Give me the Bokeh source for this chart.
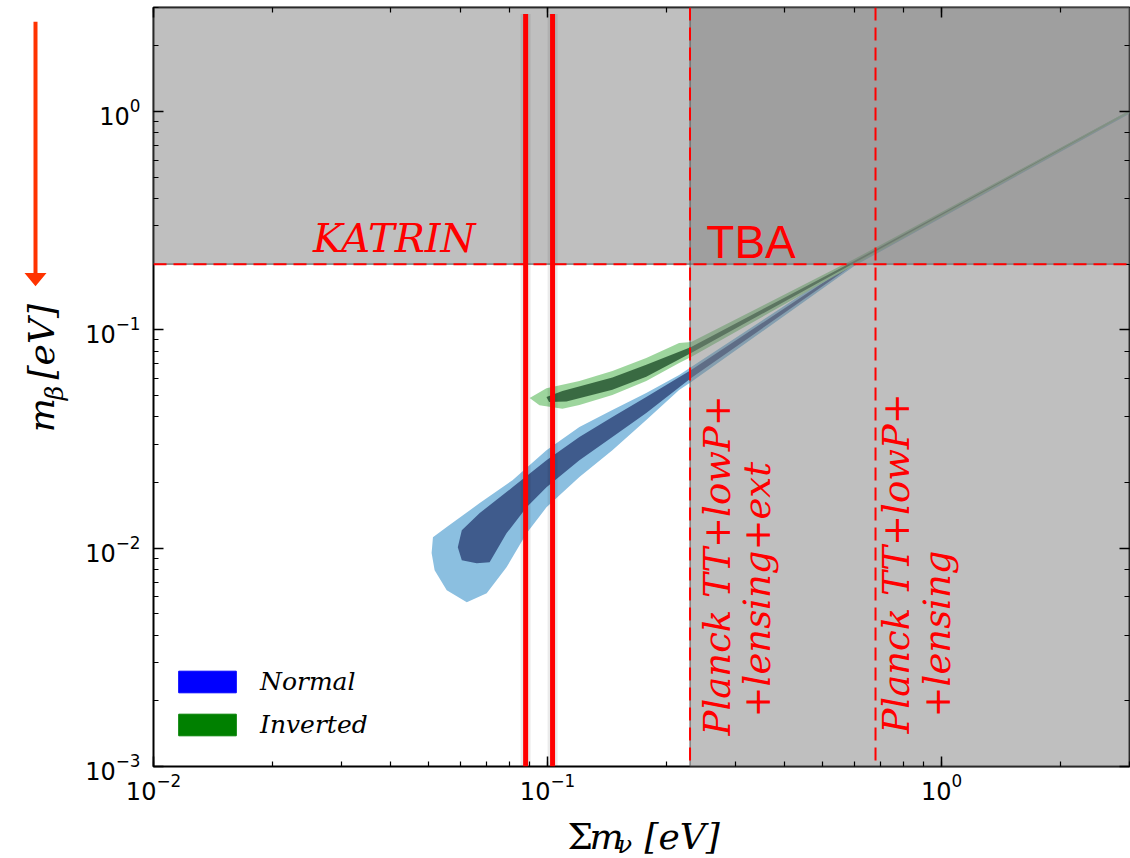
import numpy as np
from bokeh.plotting import figure
from bokeh.layouts import row, column
from bokeh.models import (Range1d, LogAxis, LogTicker, Label, Legend, LegendItem,
                          Span, CustomJSTickFormatter)
from bokeh.core.properties import value
from bokeh.embed import file_html
from bokeh.resources import INLINE

# ---- axis extents -------------------------------------------------------
SUM_RANGE = (0.01, 3.0)        # Σmν [eV]
MBETA_RANGE = (1e-3, 3.0)      # mβ [eV]

# ---- experimental limits ------------------------------------------------
katrin_limit = 0.2             # KATRIN sensitivity on mβ
planck_ext_limit = 0.23        # Planck TT+lowP+lensing+ext on Σmν
planck_lens_limit = 0.68       # Planck TT+lowP+lensing on Σmν
marker_sums = [0.088, 0.103]   # highlighted Σmν values
marker_top = 2.8

# ---- allowed regions (Σmν, mβ) ------------------------------------------
# normal ordering, outer (95%) contour
normal_outer_sum = [0.0624, 0.0555, 0.0517, 0.0508, 0.0512, 0.0555, 0.0673, 0.0815,
                    0.0994, 0.1205, 0.1461, 0.1781, 0.2158, 0.2315, 0.602, 3.0,
                    3.0, 0.602, 0.2315, 0.2158, 0.1781, 0.1461, 0.1205, 0.0994,
                    0.0885, 0.0787, 0.0701]
normal_outer_mb = [0.00565, 0.00642, 0.00793, 0.0095, 0.01123, 0.0125, 0.0161, 0.0205,
                   0.0281, 0.0359, 0.0430, 0.0514, 0.0622, 0.0677, 0.2095, 1.011,
                   0.979, 0.1966, 0.0577, 0.0531, 0.0387, 0.0281, 0.0212, 0.0154,
                   0.0117, 0.00818, 0.00622]

# normal ordering, inner (68%) contour
normal_inner_sum = [0.0661, 0.0606, 0.0592, 0.0606, 0.0673, 0.0815, 0.0994, 0.1205,
                    0.1461, 0.1781, 0.2315, 0.602, 3.0, 0.602, 0.2315, 0.1781,
                    0.1461, 0.1205, 0.0994, 0.0885, 0.0787, 0.0713]
normal_inner_mb = [0.00854, 0.00881, 0.0101, 0.0121, 0.0145, 0.0190, 0.0253, 0.0323,
                   0.0399, 0.0493, 0.0655, 0.2051, 1.0, 0.2008, 0.0602, 0.0416,
                   0.0323, 0.0253, 0.0190, 0.0154, 0.0117, 0.00863]

# inverted ordering, outer (95%) contour
inverted_outer_sum = [0.0901, 0.0994, 0.1205, 0.1461, 0.1781, 0.2158, 0.2315, 0.602,
                      3.0, 3.0, 0.602, 0.2315, 0.2158, 0.1781, 0.1461, 0.1205,
                      0.1091, 0.0954]
inverted_outer_mb = [0.0488, 0.0541, 0.0583, 0.0649, 0.0744, 0.0872, 0.0881, 0.2117,
                     1.011, 0.989, 0.1987, 0.0752, 0.0705, 0.0583, 0.0503, 0.0453,
                     0.0436, 0.0452]

# inverted ordering, inner (68%) contour
inverted_inner_sum = [0.0994, 0.1091, 0.1461, 0.1781, 0.2315, 0.602, 3.0, 0.602,
                      0.2315, 0.1781, 0.1461, 0.1117, 0.1009]
inverted_inner_mb = [0.0493, 0.0525, 0.0605, 0.0692, 0.0836, 0.2073, 1.0, 0.2029,
                     0.0784, 0.0610, 0.0532, 0.0470, 0.0468]

legend_labels = ["Normal", "Inverted"]
legend_colors = ["#0000ff", "#008000"]

MATH_FONT = "DejaVu Serif"
RED = "#ff0000"
ARROW_RED = "#ff3300"

TOTAL_W, TOTAL_H = 1130, 858
LEFT_W = 80            # strip holding the vertical title and the arrow
BOTTOM_H = 52          # strip holding the horizontal title
MAIN_W, MAIN_H = TOTAL_W - LEFT_W, TOTAL_H - BOTTOM_H

# ---- main chart ---------------------------------------------------------
p = figure(width=MAIN_W, height=MAIN_H, x_axis_type="log", y_axis_type="log",
           x_range=Range1d(*SUM_RANGE), y_range=Range1d(*MBETA_RANGE),
           output_backend="svg", toolbar_location=None,
           min_border_left=73, min_border_right=1, min_border_top=7,
           min_border_bottom=MAIN_H - 766)
p.xgrid.visible = False
p.ygrid.visible = False
p.outline_line_color = "black"
p.outline_line_width = 2
p.background_fill_color = "white"
p.border_fill_color = "white"


def style_axis(ax):
    ax.axis_line_color = None
    ax.major_tick_in = 10
    ax.major_tick_out = 0
    ax.minor_tick_in = 5
    ax.minor_tick_out = 0
    ax.major_tick_line_color = "black"
    ax.minor_tick_line_color = "black"
    ax.major_tick_line_width = 1.5
    ax.minor_tick_line_width = 1.2
    ax.major_label_text_font = "DejaVu Sans"
    ax.major_label_text_font_size = "24px"
    ax.major_label_text_color = "black"
    ax.major_label_standoff = 13


for ax in (p.xaxis[0], p.yaxis[0]):
    style_axis(ax)
p.xaxis[0].major_label_standoff = 6

# mirrored tick marks on the top and right edges, without labels
for side in ("above", "right"):
    mirror = LogAxis(ticker=LogTicker(),
                     formatter=CustomJSTickFormatter(code="return ''"))
    style_axis(mirror)
    mirror.major_label_standoff = 0
    mirror.major_label_text_font_size = "1px"
    p.add_layout(mirror, side)

# allowed regions
p.patch(normal_outer_sum, normal_outer_mb, fill_color="#8bbfe0", line_color=None)
p.patch(normal_inner_sum, normal_inner_mb, fill_color="#3f5b8c", line_color=None)
p.patch(inverted_outer_sum, inverted_outer_mb, fill_color="#92d092",
        fill_alpha=0.9, line_color=None)
p.patch(inverted_inner_sum, inverted_inner_mb, fill_color="#2f5e39",
        fill_alpha=0.9, line_color=None)

# excluded regions
p.quad(left=[SUM_RANGE[0], planck_ext_limit], right=[SUM_RANGE[1], SUM_RANGE[1]],
       bottom=[katrin_limit, MBETA_RANGE[0]], top=[MBETA_RANGE[1], MBETA_RANGE[1]],
       fill_color="#808080", fill_alpha=0.5, line_color="#505050",
       line_alpha=0.8, line_width=1.2)

# limit lines
p.add_layout(Span(location=katrin_limit, dimension="width", line_color=RED,
                  line_width=2, line_dash="13 7"))
for lim in (planck_ext_limit, planck_lens_limit):
    p.add_layout(Span(location=lim, dimension="height", line_color=RED,
                      line_width=2, line_dash="13 7"))

# highlighted Σmν values
p.segment(x0=marker_sums, y0=[MBETA_RANGE[0]] * 2, x1=marker_sums,
          y1=[marker_top] * 2, line_color="#000000", line_alpha=0.08, line_width=10)
p.segment(x0=marker_sums, y0=[MBETA_RANGE[0]] * 2, x1=marker_sums,
          y1=[marker_top] * 2, line_color=RED, line_width=5)

# annotations
p.add_layout(Label(x=0.0254, y=0.2649, text="KATRIN", text_font=MATH_FONT,
                   text_font_style="italic", text_font_size="40px",
                   text_color=RED, text_baseline="alphabetic"))
p.add_layout(Label(x=0.253, y=0.2533, text="TBA", text_font="Liberation Sans",
                   text_font_size="46px", text_color=RED,
                   text_baseline="alphabetic"))

planck_lines = [
    (0.2694, 0.001387, "Planck TT+lowP+"),
    (0.3421, 0.001678, "+lensing+ext"),
    (0.7694, 0.001416, "Planck TT+lowP+"),
    (0.9770, 0.001678, "+lensing"),
]
for xs, ys, txt in planck_lines:
    p.add_layout(Label(x=xs, y=ys, text=txt, angle=90, angle_units="deg",
                       text_font=MATH_FONT, text_font_style="italic",
                       text_font_size="37px", text_color=RED,
                       text_align="left", text_baseline="alphabetic"))

# legend (swatches only; their rows hold no visible geometry)
nan = [np.nan]
legend_renderers = [
    p.quad(left=nan, right=nan, bottom=nan, top=nan, fill_color=c, line_color=c)
    for c in legend_colors
]
legend = Legend(items=[LegendItem(label=lab, renderers=[r])
                       for lab, r in zip(legend_labels, legend_renderers)],
                location=(18, 27), glyph_width=72, glyph_height=27,
                label_height=22, label_standoff=17, spacing=14, padding=0,
                margin=0, border_line_color=None, background_fill_alpha=0,
                label_text_font=MATH_FONT, label_text_font_style="italic",
                label_text_font_size="25px", label_text_color="black")
p.add_layout(legend)


# ---- strips for the axis titles -----------------------------------------
def strip(width, height):
    f = figure(width=width, height=height, x_range=Range1d(0, width),
               y_range=Range1d(height, 0), output_backend="svg",
               toolbar_location=None, x_axis_location=None,
               y_axis_location=None, min_border=0)
    f.xgrid.visible = False
    f.ygrid.visible = False
    f.outline_line_color = None
    f.background_fill_color = "white"
    f.border_fill_color = "white"
    return f


def title_text(f, x, y, txt, size="36px", style="italic", angle=0.0):
    f.text(x=[x], y=[y], text=[txt], angle=angle, text_font=value(MATH_FONT),
           text_font_style=style, text_font_size=size, text_color="black",
           text_align="left", text_baseline="alphabetic")


# vertical title and arrow
left = strip(LEFT_W, MAIN_H)
left.patch(x=[33, 37, 37, 46, 35, 24, 33], y=[15, 15, 282, 282, 296, 282, 282],
           fill_color=ARROW_RED, line_color=None)
title_text(left, 41, 451, "m", angle=np.pi / 2)
title_text(left, 54, 417, "β", size="25px", angle=np.pi / 2)
title_text(left, 41, 395, "[eV]", angle=np.pi / 2)

# horizontal title
y0 = MAIN_H
bottom = strip(TOTAL_W, BOTTOM_H)
title_text(bottom, 567, 836 - y0, "Σ", style="normal")
title_text(bottom, 589, 836 - y0, "m")
title_text(bottom, 617, 844 - y0, "ν", size="24px")
title_text(bottom, 644, 836 - y0, "[eV]")

layout = column(row(left, p), bottom)
open("out.html", "w").write(file_html(layout, INLINE))
